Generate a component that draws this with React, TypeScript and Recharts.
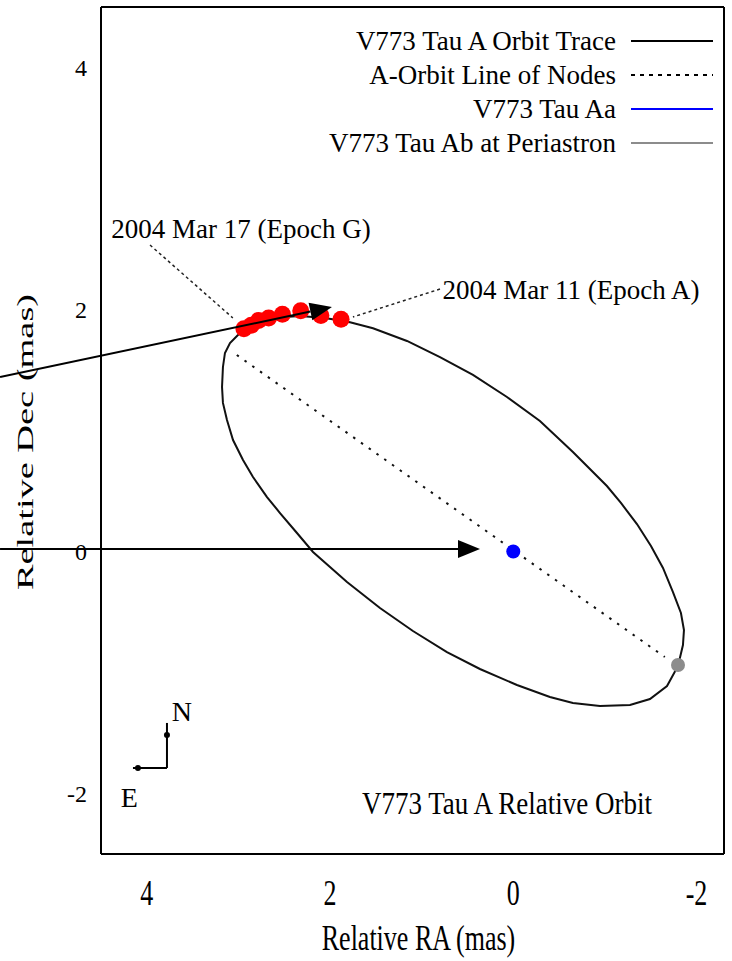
import React from "react";
import { ScatterChart, Scatter, XAxis, YAxis, ReferenceLine, Legend } from "recharts";

const FONT = '"Liberation Serif", "DejaVu Serif", serif';

// axes
const xDomain = [-2.3, 4.5];
const yDomain = [-2.5, 4.5];
const xTicks = [4, 2, 0, -2];
const yTicks = [-2, 0, 2, 4];

// orbit trace of V773 Tau A (mas)
const orbitTrace = [
  { x: 3.005, y: 1.789 }, { x: 3.092, y: 1.723 }, { x: 3.147, y: 1.641 }, { x: 3.169, y: 1.525 },
  { x: 3.179, y: 1.36 }, { x: 3.169, y: 1.228 }, { x: 3.125, y: 1.087 }, { x: 3.059, y: 0.921 },
  { x: 2.95, y: 0.756 }, { x: 2.841, y: 0.616 }, { x: 2.688, y: 0.45 }, { x: 2.546, y: 0.318 },
  { x: 2.361, y: 0.153 }, { x: 2.186, y: -0.004 }, { x: 1.815, y: -0.252 }, { x: 1.455, y: -0.467 },
  { x: 1.095, y: -0.657 }, { x: 0.724, y: -0.831 }, { x: 0.364, y: -0.971 }, { x: -0.04, y: -1.103 },
  { x: -0.4, y: -1.202 }, { x: -0.651, y: -1.252 }, { x: -0.946, y: -1.277 }, { x: -1.274, y: -1.269 },
  { x: -1.492, y: -1.219 }, { x: -1.678, y: -1.112 }, { x: -1.798, y: -0.946 }, { x: -1.852, y: -0.773 },
  { x: -1.863, y: -0.649 }, { x: -1.83, y: -0.508 }, { x: -1.743, y: -0.335 }, { x: -1.634, y: -0.136 },
  { x: -1.503, y: 0.045 }, { x: -1.35, y: 0.227 }, { x: -1.175, y: 0.401 }, { x: -1.022, y: 0.541 },
  { x: -0.651, y: 0.822 }, { x: -0.291, y: 1.079 }, { x: 0.069, y: 1.277 }, { x: 0.44, y: 1.459 },
  { x: 0.8, y: 1.607 }, { x: 1.16, y: 1.74 }, { x: 1.531, y: 1.845 }, { x: 1.782, y: 1.895 },
  { x: 2.055, y: 1.93 }, { x: 2.328, y: 1.946 }, { x: 2.492, y: 1.938 }, { x: 2.765, y: 1.888 },
  { x: 2.929, y: 1.839 }, { x: 3.005, y: 1.789 },
];

const lineOfNodes = [{ x: 3.018, y: 1.624 }, { x: -1.654, y: -0.872 }];
const aaPoint = [{ x: 0, y: 0 }];
const abPeriastron = [{ x: -1.798, y: -0.938 }];

// measured epochs (red)
const epochPoints = [
  { x: 2.94, y: 1.84 }, { x: 2.86, y: 1.87 }, { x: 2.78, y: 1.91 }, { x: 2.67, y: 1.93 },
  { x: 2.52, y: 1.96 }, { x: 2.32, y: 1.99 }, { x: 2.1, y: 1.95 }, { x: 1.88, y: 1.92 },
];

const legendItems = [
  { label: "V773 Tau A Orbit Trace", color: "#000", dash: undefined },
  { label: "A-Orbit Line of Nodes", color: "#000", dash: "4 5" },
  { label: "V773 Tau Aa", color: "#0000ff", dash: undefined },
  { label: "V773 Tau Ab at Periastron", color: "#8c8c8c", dash: undefined },
];

const textLabels = [
  { x: 2.972, y: 2.665, text: "2004 Mar 17 (Epoch G)", size: 27, sy: 1 },
  { x: -0.63, y: 2.161, text: "2004 Mar 11 (Epoch A)", size: 27, sy: 1 },
  { x: 0.069, y: -2.079, text: "V773 Tau A Relative Orbit", size: 27, sy: 1.15 },
  { x: 3.617, y: -1.326, text: "N", size: 28, sy: 1 },
  { x: 4.191, y: -2.029, text: "E", size: 28, sy: 1 },
];

const leaderLines = [
  [{ x: 3.965, y: 2.533 }, { x: 3.061, y: 1.93 }],
  [{ x: 0.8, y: 2.169 }, { x: 1.75, y: 1.938 }],
];

const compassLines = [
  [{ x: 3.78, y: -1.417 }, { x: 3.78, y: -1.789 }],
  [{ x: 3.78, y: -1.789 }, { x: 4.151, y: -1.789 }],
];
const compassMarks = [{ x: 3.78, y: -1.517 }, { x: 4.097, y: -1.789 }];

const arrows = [
  [{ x: 5.602, y: 1.442 }, { x: 1.979, y: 2.021 }],
  [{ x: 5.602, y: 0.021 }, { x: 0.363, y: 0.021 }],
];

const NoDot = () => <g />;

function TextShape(props: any) {
  const { cx, cy, payload } = props;
  return (
    <text
      transform={`translate(${cx},${cy}) scale(1,${payload.sy})`}
      textAnchor="middle"
      dominantBaseline="central"
      fontSize={payload.size}
      fontFamily={FONT}
      fill="#000"
    >
      {payload.text}
    </text>
  );
}

function ArrowShape(props: any) {
  const { x1, y1, x2, y2 } = props;
  const a = Math.atan2(y2 - y1, x2 - x1);
  const len = 22;
  const half = 9;
  const bx = x2 - len * Math.cos(a);
  const by = y2 - len * Math.sin(a);
  const p1 = `${bx + half * Math.sin(a)},${by - half * Math.cos(a)}`;
  const p2 = `${bx - half * Math.sin(a)},${by + half * Math.cos(a)}`;
  return (
    <g>
      <line x1={x1} y1={y1} x2={bx} y2={by} stroke="#000" strokeWidth={2} />
      <polygon points={`${x2},${y2} ${p1} ${p2}`} fill="#000" />
    </g>
  );
}

function XTick(props: any) {
  const { x, y, payload } = props;
  return (
    <text
      transform={`translate(${x},${y + 51}) scale(1,1.4)`}
      textAnchor="middle"
      fontSize={26}
      fontFamily={FONT}
      fill="#000"
    >
      {payload.value}
    </text>
  );
}

function LegendBox() {
  return (
    <svg width={732} height={170} style={{ display: "block" }}>
      {legendItems.map((it, i) => {
        const cy = 41 + i * 34;
        return (
          <g key={it.label}>
            <text x={616} y={cy + 9} textAnchor="end" fontSize={27} fontFamily={FONT} fill="#000">
              {it.label}
            </text>
            <line x1={631} x2={713} y1={cy} y2={cy} stroke={it.color} strokeWidth={2} strokeDasharray={it.dash} />
          </g>
        );
      })}
    </svg>
  );
}

const frame = { stroke: "#000", strokeWidth: 2 };

export default function App() {
  return (
    <div style={{ position: "absolute", left: 0, top: 0, background: "#fff" }}>
      <ScatterChart width={732} height={961} margin={{ top: 7, right: 8, bottom: 0, left: 0 }}>
        <XAxis
          xAxisId="x"
          type="number"
          dataKey="x"
          domain={xDomain}
          allowDataOverflow
          reversed
          ticks={xTicks}
          height={107}
          axisLine={false}
          tickLine={false}
          tickSize={0}
          tickMargin={0}
          tick={<XTick />}
          label={{
            content: (p: any) => {
              const vb = p.viewBox;
              return (
                <text
                  transform={`translate(${vb.x + vb.width / 2 + 6},${vb.y + 96}) scale(1,1.4)`}
                  textAnchor="middle"
                  fontSize={26}
                  fontFamily={FONT}
                  fill="#000"
                >
                  Relative RA (mas)
                </text>
              );
            },
          }}
        />
        <YAxis
          yAxisId="y"
          type="number"
          dataKey="y"
          domain={yDomain}
          allowDataOverflow
          ticks={yTicks}
          width={101}
          axisLine={false}
          tickLine={false}
          tickSize={0}
          tickMargin={14}
          tick={{ fontSize: 24, fill: "#000", fontFamily: FONT }}
          label={{
            content: (p: any) => {
              const vb = p.viewBox;
              return (
                <text
                  transform={`translate(${vb.x + 25},${vb.y + 435}) rotate(-90) scale(1.6,1)`}
                  textAnchor="middle"
                  dominantBaseline="central"
                  fontSize={24}
                  fontFamily={FONT}
                  fill="#000"
                >
                  Relative Dec (mas)
                </text>
              );
            },
          }}
        />
        {/* frame with inward ticks */}
        <XAxis xAxisId="xb" type="number" domain={xDomain} allowDataOverflow reversed ticks={xTicks} mirror tick={false} tickSize={11} axisLine={frame} tickLine={frame} />
        <XAxis xAxisId="xt" orientation="top" type="number" domain={xDomain} allowDataOverflow reversed ticks={xTicks} mirror tick={false} tickSize={11} axisLine={frame} tickLine={frame} />
        <YAxis yAxisId="yl" type="number" domain={yDomain} allowDataOverflow ticks={yTicks} mirror tick={false} tickSize={11} axisLine={frame} tickLine={frame} />
        <YAxis yAxisId="yr" orientation="right" type="number" domain={yDomain} allowDataOverflow ticks={yTicks} mirror tick={false} tickSize={11} axisLine={frame} tickLine={frame} />

        <Legend
          verticalAlign="middle"
          align="center"
          layout="horizontal"
          wrapperStyle={{ top: 0, left: 0, width: 732, height: 170 }}
          content={() => <LegendBox />}
        />

        <Scatter xAxisId="x" yAxisId="y" data={orbitTrace} line={{ stroke: "#111", strokeWidth: 2 }} shape={NoDot} isAnimationActive={false} />
        <Scatter xAxisId="x" yAxisId="y" data={lineOfNodes} line={{ stroke: "#111", strokeWidth: 2, strokeDasharray: "2.5 7" }} shape={NoDot} isAnimationActive={false} />
        <Scatter xAxisId="x" yAxisId="y" data={epochPoints} fill="#ff0000" shape={(p: any) => <circle cx={p.cx} cy={p.cy} r={8.5} fill="#ff0000" />} isAnimationActive={false} />
        <Scatter xAxisId="x" yAxisId="y" data={aaPoint} shape={(p: any) => <circle cx={p.cx} cy={p.cy} r={7} fill="#0000ff" />} isAnimationActive={false} />
        <Scatter xAxisId="x" yAxisId="y" data={abPeriastron} shape={(p: any) => <circle cx={p.cx} cy={p.cy} r={7} fill="#8c8c8c" />} isAnimationActive={false} />
        <Scatter xAxisId="x" yAxisId="y" data={compassMarks} shape={(p: any) => <circle cx={p.cx} cy={p.cy} r={3} fill="#000" />} isAnimationActive={false} />
        <Scatter xAxisId="x" yAxisId="y" data={textLabels} shape={TextShape} isAnimationActive={false} />

        {leaderLines.map((seg, i) => (
          <ReferenceLine key={"l" + i} xAxisId="x" yAxisId="y" segment={seg} stroke="#222" strokeWidth={1.5} strokeDasharray="3 3" ifOverflow="visible" />
        ))}
        {compassLines.map((seg, i) => (
          <ReferenceLine key={"c" + i} xAxisId="x" yAxisId="y" segment={seg} stroke="#000" strokeWidth={2} ifOverflow="visible" />
        ))}
        {arrows.map((seg, i) => (
          <ReferenceLine key={"a" + i} xAxisId="x" yAxisId="y" segment={seg} ifOverflow="visible" shape={ArrowShape} zIndex={900} />
        ))}
      </ScatterChart>
    </div>
  );
}
